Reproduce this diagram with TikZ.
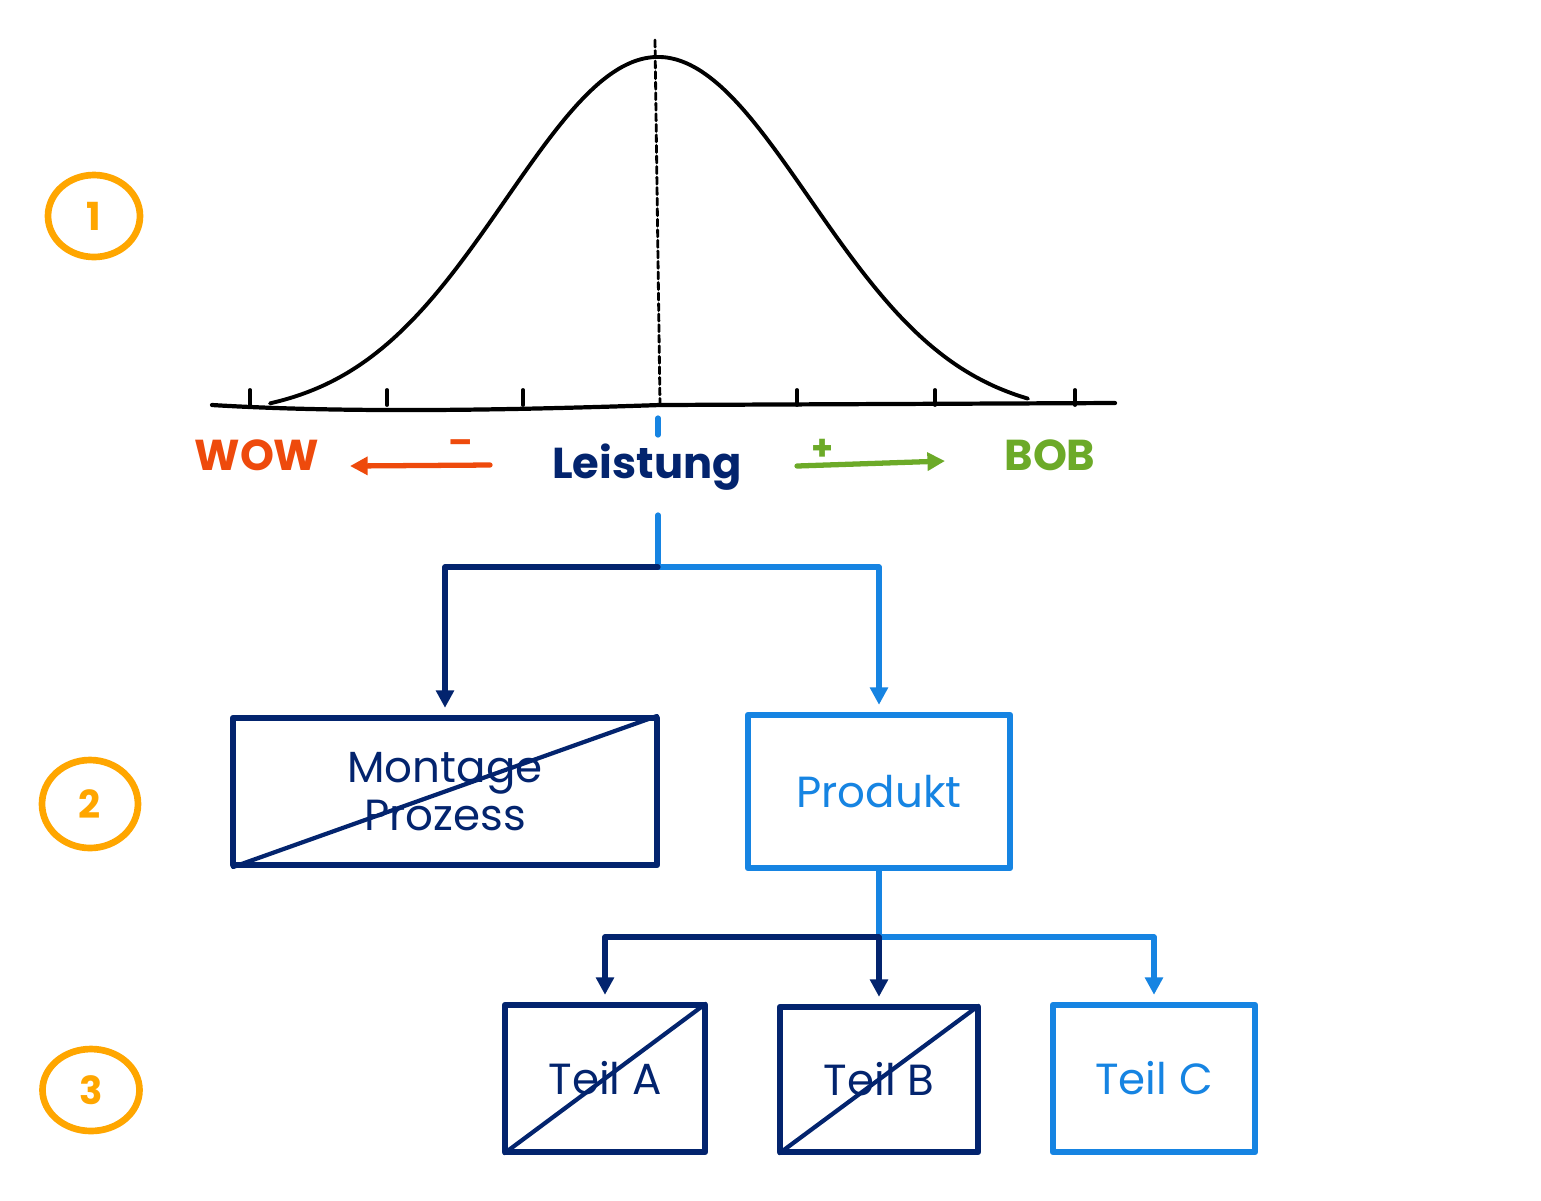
\documentclass[tikz,border=0pt]{standalone}
\usepackage{fontspec}
\setmainfont{Poppins}
\usetikzlibrary{arrows.meta,shapes.geometric}
\definecolor{navy}{RGB}{3,36,110}
\definecolor{sky}{RGB}{22,132,226}
\definecolor{amber}{RGB}{255,166,0}
\definecolor{wowred}{RGB}{238,74,12}
\definecolor{bobgreen}{RGB}{108,170,40}
\tikzset{
  box/.style={draw, line width=1.8pt, rectangle, align=center, inner sep=0pt},
  conn/.style={line width=1.5pt},
  numring/.style={draw=amber, text=amber, ellipse, line width=1.9pt, inner sep=0pt,
    minimum width=0.92cm, minimum height=0.82cm, font=\bfseries\fontsize{11}{11}\selectfont},
  crossout/.style={line width=1.2pt, shorten <=1pt, shorten >=1pt},
  boldlabel/.style={font=\bfseries\fontsize{12.3}{13}\selectfont}
}
\begin{document}
\begin{tikzpicture}[font=\fontsize{12.4}{13.6}\selectfont, line join=round, line cap=round,
  >={Triangle[length=5pt,width=5pt]}]
\useasboundingbox (0,0) rectangle (15.41,-12);
\path
(2.12,-4.05) coordinate (AL)
(11.15,-4.03) coordinate (AR)
(6.60,-4.05) coordinate (O)
(6.55,-0.40) coordinate (T)
(6.58,-4.18) coordinate (B1)
(6.58,-4.35) coordinate (B2)
(6.58,-5.15) coordinate (B3)
(6.58,-5.67) coordinate (J1)
(8.79,-9.37) coordinate (J2)
(4.90,-4.65) coordinate (WS)
(3.50,-4.66) coordinate (WE)
(7.97,-4.66) coordinate (BS)
(9.45,-4.61) coordinate (BE)
;
% bell curve over the axis
\draw[line width=1.2pt] (AL) .. controls (3.6,-4.14) and (5.4,-4.09) .. (O) -- (AR);
\foreach \x in {2.50,3.87,5.23,7.97,9.35,10.75}
\draw[line width=1.1pt] (\x,-4.05) -- ++(0,0.15);
\draw[line width=1.1pt] plot[smooth, domain=2.70:10.28, samples=70]
  (\x,{-4.17+3.60*exp(-((\x-6.58)^2)/4.6)});
\draw[line width=0.8pt, dash pattern=on 2pt off 1pt] (T) -- (O);
% labels under the axis
\node[navy, boldlabel] (leistung) at (6.47,-4.67) {Leistung};
\node[wowred, boldlabel] (wow) at (2.57,-4.55) {WOW};
\node[bobgreen, boldlabel] (bob) at (10.50,-4.55) {BOB};
\node[wowred, font=\bfseries] (minus) at (4.61,-4.47) {–};
\node[bobgreen, font=\bfseries] (plus) at (8.23,-4.50) {+};
\draw[wowred, conn, ->] (WS) -- (WE);
\draw[bobgreen, conn, ->] (BS) -- (BE);
\draw[sky, conn] (B1) -- (B2);
% boxes
\node[box, navy, minimum width=4.24cm, minimum height=1.47cm] (montage) at (4.45,-7.915) {Montage\\Prozess};
\node[box, sky, minimum width=2.62cm, minimum height=1.53cm] (produkt) at (8.79,-7.915) {Produkt};
\node[box, navy, minimum width=2.00cm, minimum height=1.47cm] (teilA) at (6.05,-10.785) {Teil A};
\node[box, navy, minimum width=1.98cm, minimum height=1.45cm] (teilB) at (8.79,-10.795) {Teil B};
\node[box, sky, minimum width=2.02cm, minimum height=1.47cm] (teilC) at (11.54,-10.785) {Teil C};
\foreach \b in {montage,teilA,teilB}
\draw[navy, crossout] (\b.south west) -- (\b.north east);
% tree
\draw[sky, conn] (B3) -- (J1);
\draw[sky, conn, ->, shorten >=2pt] (J1) -| (produkt.north);
\draw[navy, conn, ->, shorten >=2pt] (J1) -| (montage.north);
\draw[sky, conn] (produkt.south) -- (J2);
\draw[sky, conn, ->, shorten >=2pt] (J2) -| (teilC.north);
\draw[navy, conn, ->, shorten >=2pt] (J2) -| (teilA.north);
\draw[navy, conn, ->, shorten >=2pt] (J2) -- (J2 |- teilB.north);
% step numbers
\node[numring] (n1) at (0.94,-2.16) {1};
\node[numring, minimum width=0.96cm, minimum height=0.88cm] (n2) at (0.90,-8.04) {2};
\node[numring, minimum width=0.97cm, minimum height=0.82cm] (n3) at (0.91,-10.90) {3};
\end{tikzpicture}
\end{document}
